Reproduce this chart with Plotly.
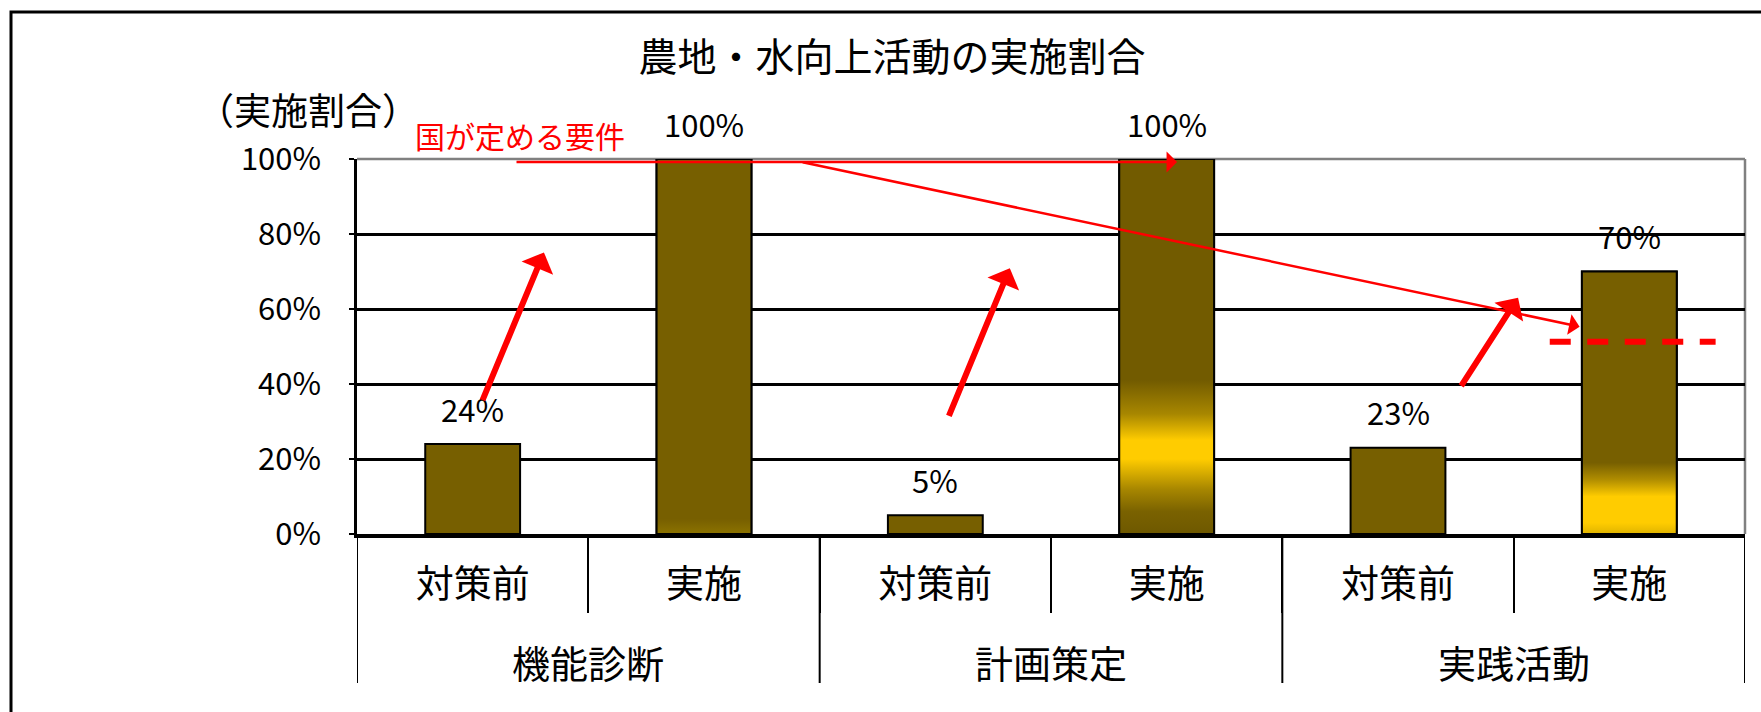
import plotly.graph_objects as go

# ---------------- data ----------------
groups = ["機能診断", "機能診断", "計画策定", "計画策定", "実践活動", "実践活動"]
stages = ["対策前", "実施", "対策前", "実施", "対策前", "実施"]
rates = [24, 100, 5, 100, 23, 70]
y_ticks = [0, 20, 40, 60, 80, 100]
y_ticktext = [f"{t}%" for t in y_ticks]
title_text = "農地・水向上活動の実施割合"
y_label = "（実施割合）"
req_label = "国が定める要件"

# ---------------- style ----------------
CJK = "Noto Sans CJK JP"
NUM = "Noto Sans CJK JP"
BROWN = "#775F00"
YELLOW = "#FFCC00"
BARGAP = 0.59
HW = (1 - BARGAP) / 2

xpos = list(range(len(rates)))

# gradient fills for some bars (index -> colorscale in fraction of bar height)
gradients = {
    1: [[0.0, "#8C7300"], [0.04, BROWN], [1.0, BROWN]],
    3: [[0.0, "#6E5800"], [0.06, "#7A6200"], [0.12, "#A88700"], [0.2, YELLOW],
        [0.25, YELLOW], [0.32, "#A88700"], [0.41, "#725B00"], [1.0, "#725B00"]],
    5: [[0.0, "#E0B400"], [0.03 / 0.7, YELLOW], [0.10 / 0.7, YELLOW],
        [0.145 / 0.7, "#B08D00"], [0.19 / 0.7, BROWN], [1.0, BROWN]],
}

fig = go.Figure()

fig.add_trace(go.Bar(
    x=xpos, y=rates,
    marker=dict(color=BROWN, line=dict(color="black", width=2)),
    hoverinfo="skip", showlegend=False,
))

for i, cs in gradients.items():
    v = rates[i]
    x = xpos[i]
    fig.add_trace(go.Scatter(
        x=[x - HW, x + HW, x + HW, x - HW, x - HW],
        y=[0, 0, v, v, 0],
        mode="lines", fill="toself",
        fillgradient=dict(type="vertical", colorscale=cs, start=0, stop=v),
        line=dict(color="black", width=2),
        hoverinfo="skip", showlegend=False,
    ))

annotations = []
# value labels
for x, v in zip(xpos, rates):
    annotations.append(dict(
        x=x, y=v, xref="x", yref="y", text=f"{v}%", showarrow=False,
        yanchor="middle", yshift=36,
        font=dict(family=NUM, size=31, color="black"),
    ))

# group labels and group dividers (outer level of the category axis)
shapes = []
bounds = [xpos[0] - 0.5]
group_names = []
group_members = []
for x, g in zip(xpos, groups):
    if not group_names or group_names[-1] != g:
        if group_names:
            bounds.append(x - 0.5)
        group_names.append(g)
        group_members.append([])
    group_members[-1].append(x)
bounds.append(xpos[-1] + 0.5)

for name, members in zip(group_names, group_members):
    annotations.append(dict(
        x=sum(members) / len(members), y=(534 - 661) / 375, xref="x", yref="paper",
        text=name, showarrow=False, yanchor="middle",
        font=dict(family=CJK, size=38, color="black"),
    ))
for b in bounds:
    shapes.append(dict(type="line", xref="x", yref="paper", x0=b, x1=b,
                       y0=0, y1=(534 - 683) / 375,
                       line=dict(color="black", width=2)))

# arrows (head x,y ; tail ax,ay)
def arrow(x, y, ax, ay, width, size):
    return dict(x=x, y=y, ax=ax, ay=ay, xref="x", yref="y", axref="x", ayref="y",
                text="", showarrow=True, arrowhead=1, arrowsize=size,
                arrowwidth=width, arrowcolor="#FF0000", standoff=0, startstandoff=0)

annotations += [
    arrow(3.045, 99.2, 0.183, 99.2, 2.5, 1.4),
    arrow(4.785, 55.3, 1.420, 99.2, 2.5, 1.4),
    arrow(0.308, 75.1, 0.040, 35.3, 6, 0.95),
    arrow(2.322, 70.9, 2.056, 31.1, 6, 0.95),
    arrow(4.519, 63.0, 4.269, 39.1, 6, 0.95),
]

annotations += [
    dict(text=y_label, xref="paper", yref="paper", x=(421 - 357) / 1388,
         y=(534 - 109) / 375, xanchor="right", yanchor="middle", showarrow=False,
         font=dict(family=CJK, size=37, color="black")),
    dict(text=req_label, xref="paper", yref="paper", x=(413 - 357) / 1388,
         y=(534 - 135) / 375, xanchor="left", yanchor="middle", showarrow=False,
         font=dict(family=CJK, size=30, color="#FF0000")),
]

shapes += [
    # grey frame top & right
    dict(type="line", xref="paper", yref="paper", x0=0, x1=1, y0=1, y1=1,
         line=dict(color="#808080", width=2.5), layer="below"),
    dict(type="line", xref="paper", yref="paper", x0=1, x1=1, y0=0, y1=1,
         line=dict(color="#808080", width=2.5), layer="below"),
    # red dashed requirement line
    dict(type="line", xref="x", yref="y", x0=4.656, x1=5.373, y0=51.3, y1=51.3,
         line=dict(color="#FF0000", width=6, dash="21px,16.5px")),
    # outer border
    dict(type="rect", xref="paper", yref="paper",
         x0=(11 - 357) / 1388, x1=(1775 - 357) / 1388,
         y0=(534 - 730) / 375, y1=(534 - 12) / 375,
         line=dict(color="black", width=3), fillcolor="rgba(0,0,0,0)"),
]

fig.update_layout(
    width=1761, height=712,
    margin=dict(l=357, r=16, t=159, b=178, autoexpand=False),
    paper_bgcolor="white", plot_bgcolor="white",
    bargap=BARGAP,
    title=dict(text=title_text, x=892 / 1761, xref="container", xanchor="center",
               y=1 - 57 / 712, yref="container", yanchor="middle",
               font=dict(family=CJK, size=39, color="black")),
    xaxis=dict(
        range=[xpos[0] - 0.5, xpos[-1] + 0.5],
        tickmode="array", tickvals=xpos, ticktext=stages, ticks="",
        minor=dict(tickmode="array", tickvals=[x + 0.5 for x in xpos[:-1]],
                   ticks="outside", ticklen=75, tickwidth=2, tickcolor="black",
                   showgrid=False),
        ticklabelstandoff=14,
        tickfont=dict(family=CJK, size=38, color="black"),
        showline=True, linecolor="black", linewidth=3.5, showgrid=False,
        zeroline=False,
    ),
    yaxis=dict(
        range=[0, 100], tickvals=y_ticks, ticktext=y_ticktext,
        showgrid=True, gridcolor="black", gridwidth=2.5, zeroline=False,
        ticks="outside", ticklen=5, tickwidth=2, tickcolor="black",
        ticklabelstandoff=22,
        showline=True, linecolor="black", linewidth=2.5,
        tickfont=dict(family=NUM, size=31, color="black"),
    ),
    annotations=annotations,
    shapes=shapes,
)

fig.write_html("out.html")
